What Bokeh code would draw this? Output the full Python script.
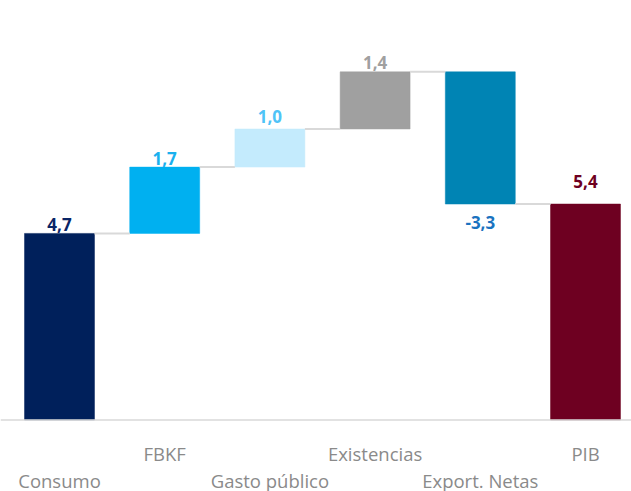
from bokeh.plotting import figure
from bokeh.models import ColumnDataSource, Span, Range1d
from bokeh.core.properties import value
from bokeh.embed import file_html
from bokeh.resources import INLINE

categories = ["Consumo", "FBKF", "Gasto público", "Existencias", "Export. Netas", "PIB"]
contributions = [4.70, 1.67, 0.96, 1.44, -3.33, 5.44]
is_total = [False, False, False, False, False, True]

bar_colors = ["#00205B", "#00B0F0", "#C4EBFD", "#A0A0A0", "#0084B4", "#6E0021"]
label_colors = ["#0A2566", "#1AB0EE", "#4FC3F7", "#A0A0A0", "#1A73C0", "#6E0021"]

# waterfall geometry
bottoms, tops, ends = [], [], []
run = 0.0
for v, tot in zip(contributions, is_total):
    if tot:
        b, t = 0.0, v
        run = v
    else:
        b, t = run, run + v
        run = run + v
    bottoms.append(min(b, t))
    tops.append(max(b, t))
    ends.append(run)

xs = list(range(len(categories)))
labels = [("%.1f" % v).replace(".", ",") for v in contributions]
label_y = [bo if v < 0 else t for v, bo, t in zip(contributions, bottoms, tops)]
label_off = [-9, -9, -12, -9, 18, -23]

W, H = 631, 491
PXX, PXY = 105.2, 39.7
p = figure(width=W, height=H, output_backend="svg", toolbar_location=None,
           x_range=Range1d(-59 / PXX, -59 / PXX + W / PXX),
           y_range=Range1d(-71.5 / PXY, -71.5 / PXY + H / PXY),
           min_border=0, min_border_left=0, min_border_right=0,
           min_border_top=0, min_border_bottom=0)
p.axis.visible = False
p.grid.visible = False
p.outline_line_color = None
p.background_fill_color = "white"
p.border_fill_color = "white"

bw = 0.665
src = ColumnDataSource(dict(x=xs, bottom=bottoms, top=tops, color=bar_colors))
p.vbar(x="x", width=bw, bottom="bottom", top="top", fill_color="color",
       line_color="color", line_width=0.5, source=src)

# connectors
cx0 = [i + bw / 2 for i in xs[:-1]]
cx1 = [i + 1 - bw / 2 for i in xs[:-1]]
cy = ends[:-1]
p.segment(x0=cx0, y0=cy, x1=cx1, y1=cy, line_color="#D9D9D9", line_width=2)

p.add_layout(Span(location=0, dimension="width", line_color="#D9D9D9", line_width=1.5))

lsrc = ColumnDataSource(dict(x=xs, y=label_y, text=labels, color=label_colors, off=label_off))
p.text(x="x", y="y", text="text", y_offset="off", text_color="color", source=lsrc,
       text_align="center", text_baseline="alphabetic",
       text_font=value("Open Sans"), text_font_size="17px", text_font_style="bold")

cat_off = [60 if i % 2 == 0 else 33 for i in xs]
csrc = ColumnDataSource(dict(x=xs, y=[0] * len(xs), text=categories, off=cat_off))
p.text(x="x", y="y", text="text", y_offset="off", source=csrc,
       text_align="center", text_baseline="middle", text_color="#8A8A8A",
       text_font=value("Open Sans"), text_font_size="18.5px")

open("out.html", "w").write(file_html(p, INLINE))
